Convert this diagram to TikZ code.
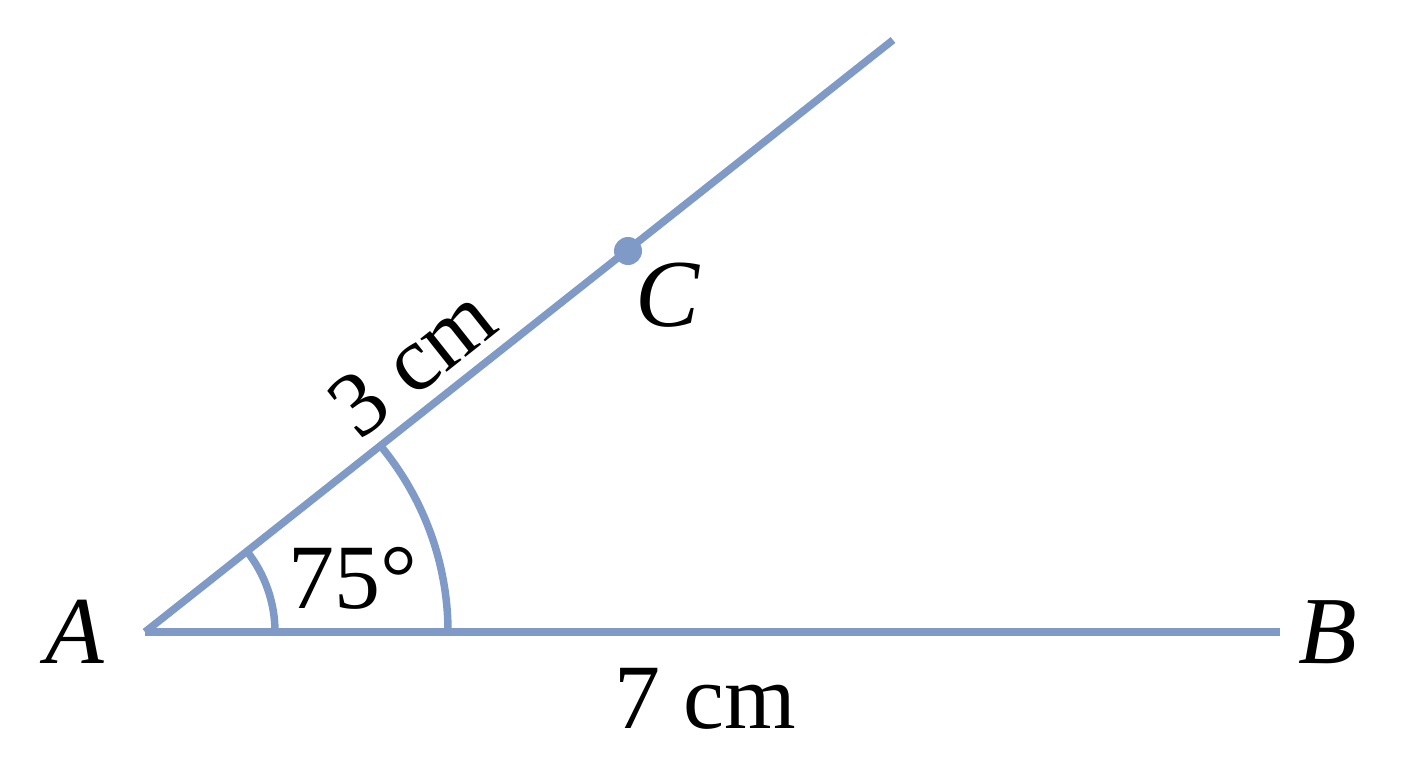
\documentclass[tikz,border=0pt]{standalone}
\usepackage{fontspec}
\setmainfont{Liberation Serif}
\definecolor{linecol}{RGB}{127,154,198}
\begin{document}
\begin{tikzpicture}[x=1pt,y=-1pt,
  seg/.style={draw=linecol,line width=7.5pt},
  lbl/.style={inner sep=0pt,font=\fontsize{92}{100}\selectfont},
  ptlbl/.style={inner sep=0pt,font=\fontsize{96}{100}\selectfont\itshape}]
\useasboundingbox (0,0) rectangle (1408,768);
\coordinate (A) at (145,632);
\coordinate (B) at (1280,632);
\coordinate (R) at (893,40);
\coordinate (C) at (628,251);
\draw[seg] (A) -- (R);
\draw[seg] (A) -- (B);
\draw[seg] ([xshift=130pt]A) arc[start angle=0,end angle=38.4,radius=130pt];
\draw[seg] ([xshift=303pt]A) arc[start angle=0,end angle=38.4,x radius=303pt,y radius=296pt];
\fill[linecol] (C) circle[radius=14pt];
\node[ptlbl] (la) at (75,632) {A};
\node[ptlbl] (lb) at (1328,632) {B};
\node[ptlbl] (lc) at (668,295) {C};
\node[lbl] (l7) at (705,699) {7 cm};
\node[lbl] (l75) at (353,578) {75°};
\node[lbl,rotate=38.4] (l3) at (412,362) {3~cm};
\end{tikzpicture}
\end{document}
